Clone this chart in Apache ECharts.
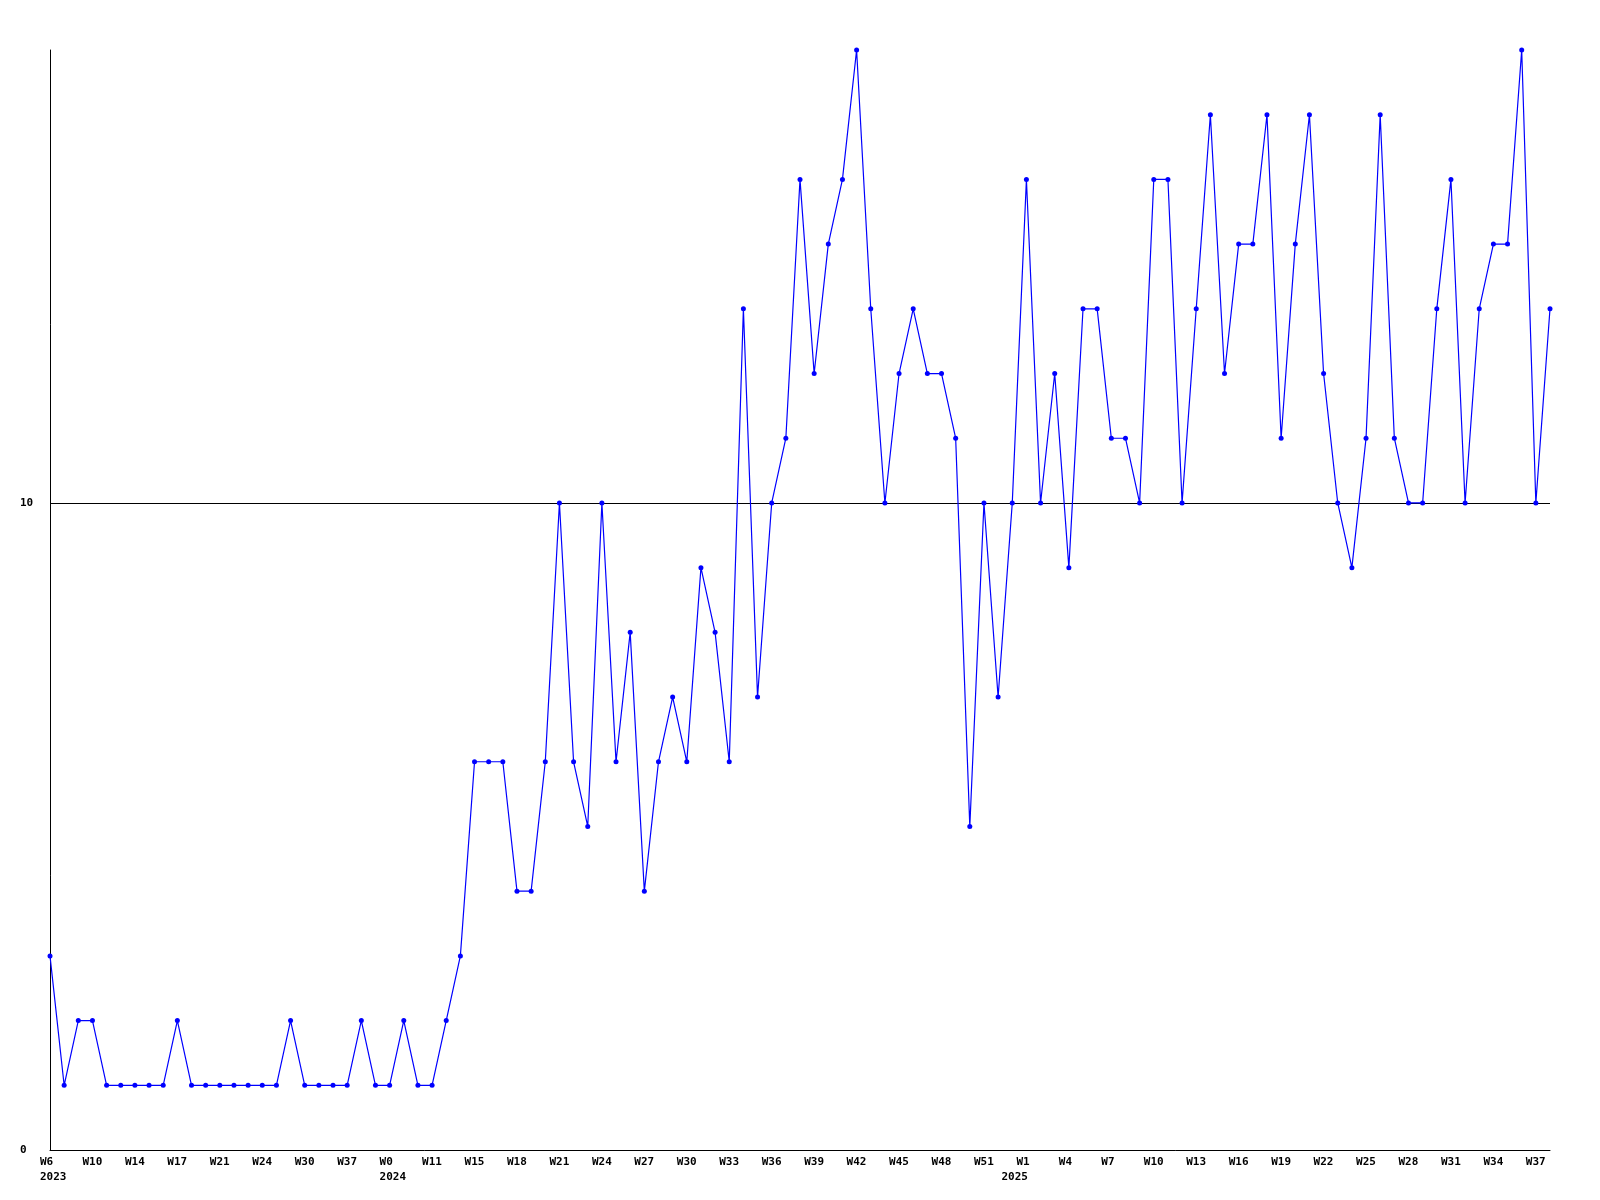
<!DOCTYPE html>
<html>
<head>
<meta charset="utf-8">
<script src="https://cdn.jsdelivr.net/npm/echarts@6/dist/echarts.min.js"></script>
<style>
html,body{margin:0;padding:0;background:#fff;}
#chart{width:1600px;height:1200px;}
</style>
</head>
<body>
<div id="chart"></div>
<script>
const weeks = [
  'W6','W7','W8','W10','W11','W12','W14','W15','W16','W17',
  'W18','W20','W21','W22','W23','W24','W26','W28','W30','W32',
  'W34','W37','W40','W45','W0','W3','W7','W11','W13','W14',
  'W15','W16','W17','W18','W19','W20','W21','W22','W23','W24',
  'W25','W26','W27','W28','W29','W30','W31','W32','W33','W34',
  'W35','W36','W37','W38','W39','W40','W41','W42','W43','W44',
  'W45','W46','W47','W48','W49','W50','W51','W52','W0','W1',
  'W2','W3','W4','W5','W6','W7','W8','W9','W10','W11',
  'W12','W13','W14','W15','W16','W17','W18','W19','W20','W21',
  'W22','W23','W24','W25','W26','W27','W28','W29','W30','W31',
  'W32','W33','W34','W35','W36','W37','W38'
];
const yearAt = [[0, '2023'], [24, '2024'], [69, '2025']];
const values = [
  3,1,2,2,1,1,1,1,1,2,
  1,1,1,1,1,1,1,2,1,1,
  1,1,2,1,1,2,1,1,2,3,
  6,6,6,4,4,6,10,6,5,10,
  6,8,4,6,7,6,9,8,6,13,
  7,10,11,15,12,14,15,17,13,10,
  12,13,12,12,11,5,10,7,10,15,
  10,12,9,13,13,11,11,10,15,15,
  10,13,16,12,14,14,16,11,14,16,
  12,10,9,11,16,11,10,10,13,15,
  10,13,14,14,17,10,13
];
const yMax = 17;
const refLine = 10;

const yearMap = {};
yearAt.forEach(([i, y], k) => { yearMap[i] = {text: y, wide: k === 2}; });

const FONT = 'DejaVu Sans Mono';
const baseText = {fontFamily: FONT, fontWeight: 'bold', fontSize: 11, lineHeight: 14.5, color: '#000'};
const chart = echarts.init(document.getElementById('chart'), null, {renderer: 'canvas'});
chart.setOption({
  animation: false,
  backgroundColor: '#ffffff',
  grid: {left: 50, right: 50, top: 50, bottom: 50, containLabel: false},
  xAxis: {
    type: 'category',
    data: weeks,
    boundaryGap: false,
    axisLine: {show: true, lineStyle: {color: '#000', width: 1}},
    axisTick: {show: false},
    splitLine: {show: false},
    axisLabel: {
      interval: 2,
      margin: 5,
      color: '#000',
      fontFamily: FONT,
      fontWeight: 'bold',
      fontSize: 11,
      lineHeight: 14.5,
      align: 'center',
      formatter: function (val, idx) {
        const y = yearMap[idx];
        if (!y) return '{w|' + val + '}';
        if (y.wide) return '{wp|' + val + '}\n{yb|' + y.text + '}';
        return '{w|' + val + '}\n{w|' + y.text + '}';
      },
      rich: {
        w: Object.assign({width: 20, align: 'left'}, baseText),
        wp: Object.assign({width: 20, align: 'left', padding: [0, 0, 0, 15]}, baseText),
        yb: Object.assign({width: 50, align: 'left'}, baseText)
      }
    }
  },
  yAxis: {
    type: 'value',
    min: 0,
    max: yMax,
    interval: 10,
    axisLine: {show: true, lineStyle: {color: '#000', width: 1}},
    axisTick: {show: false},
    splitLine: {show: false},
    axisLabel: {
      show: true,
      showMaxLabel: false,
      align: 'left',
      margin: 30,
      color: '#000',
      fontFamily: FONT,
      fontWeight: 'bold',
      fontSize: 11
    }
  },
  series: [{
    type: 'line',
    data: values,
    showAllSymbol: true,
    symbol: 'circle',
    symbolSize: 5,
    itemStyle: {color: '#0000ff'},
    lineStyle: {color: '#0000ff', width: 1.2},
    z: 3,
    markLine: {
      silent: true,
      symbol: ['none', 'none'],
      label: {show: false},
      lineStyle: {color: '#000', width: 1, type: 'solid'},
      data: [{yAxis: refLine}],
      z: 1
    }
  }]
});
</script>
</body>
</html>
